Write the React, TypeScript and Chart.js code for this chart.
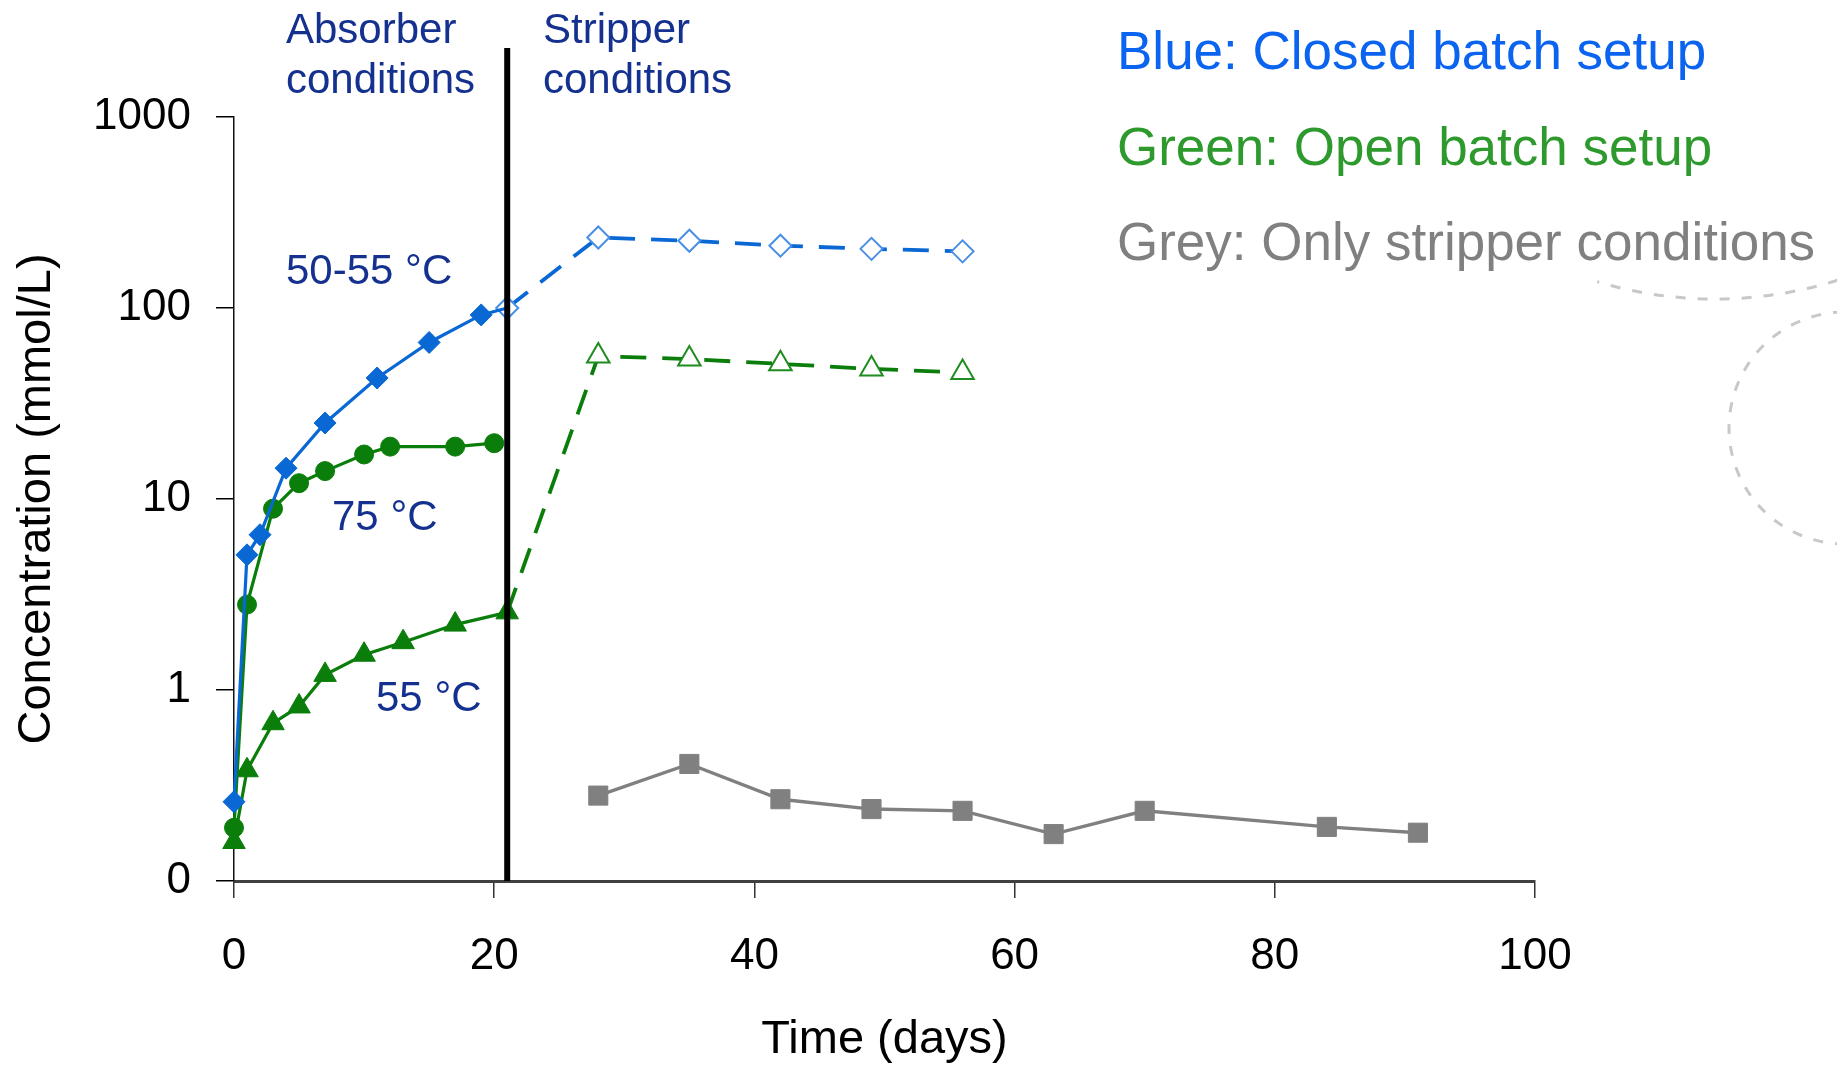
import React, { useEffect, useRef } from 'react';
import { Chart, registerables } from 'chart.js';

Chart.register(...registerables);

// ---- Data ----
const closedAbsorberDays = [0, 1, 2, 4, 7, 11, 15, 19, 21];
const closedAbsorberConc = [0.26, 5.1, 6.5, 14.5, 25, 43, 66, 92, 100];
const closedStripperDays = [21, 28, 35, 42, 49, 56];
const closedStripperConc = [100, 234, 225, 212, 204, 198];
const open75Days = [0, 1, 3, 5, 7, 10, 12, 17, 20];
const open75Conc = [0.19, 2.8, 8.9, 12.1, 14.0, 17.1, 18.8, 18.8, 19.6];
const open55Days = [0, 1, 3, 5, 7, 10, 13, 17, 21];
const open55Conc = [0.16, 0.38, 0.67, 0.82, 1.2, 1.53, 1.78, 2.2, 2.55];
const openStripperDays = [21, 28, 35, 42, 49, 56];
const openStripperConc = [2.55, 56, 54, 51, 48, 46];
const stripperOnlyDays = [28, 35, 42, 49, 56, 63, 70, 84, 91];
const stripperOnlyConc = [0.28, 0.41, 0.268, 0.238, 0.233, 0.176, 0.233, 0.192, 0.179];

const yTickValues = [0.1, 1, 10, 100, 1000];
const yTickLabels = ['0', '1', '10', '100', '1000'];
const xTickValues = [0, 20, 40, 60, 80, 100];
const dividerDay = 21;
const dividerTopConc = 2300;

const FONT = "'Liberation Sans', Arial, Helvetica, sans-serif";
const BLUE = '#0A68D4';
const BLUE_OPEN = '#4A8FE6';
const GREEN = '#0A7D0A';
const GREY = '#808080';
const NAVY = '#15318F';

const toPoints = (xs: number[], ys: number[]) => xs.map((x, i) => ({ x, y: ys[i] }));

const overlayPlugin = {
  id: 'overlay',
  afterDatasetsDraw(chart: any) {
    const { ctx, scales, chartArea } = chart;
    const px = scales.x.getPixelForValue(dividerDay);
    ctx.save();
    ctx.strokeStyle = '#000';
    ctx.lineWidth = 6;
    ctx.beginPath();
    ctx.moveTo(px, scales.y.getPixelForValue(dividerTopConc));
    ctx.lineTo(px, chartArea.bottom);
    ctx.stroke();
    ctx.restore();
  },
  afterDraw(chart: any) {
    const { ctx } = chart;
    ctx.save();
    // decorative dashed arcs
    ctx.strokeStyle = '#C8C8C8';
    ctx.lineWidth = 3;
    ctx.setLineDash([10, 12]);
    ctx.beginPath();
    ctx.arc(1715, -110, 409, 1.266, 1.863);
    ctx.stroke();
    ctx.beginPath();
    ctx.arc(1845, 428, 116, Math.PI / 2, (3 * Math.PI) / 2);
    ctx.stroke();
    ctx.setLineDash([]);

    ctx.textAlign = 'left';
    ctx.textBaseline = 'alphabetic';
    ctx.fillStyle = NAVY;
    ctx.font = `42px ${FONT}`;
    ctx.fillText('Absorber', 286, 43);
    ctx.fillText('conditions', 286, 93);
    ctx.fillText('Stripper', 543, 43);
    ctx.fillText('conditions', 543, 93);
    ctx.fillText('50-55 °C', 286, 284);
    ctx.fillText('75 °C', 332, 530);
    ctx.fillText('55 °C', 376, 711);

    ctx.font = `53px ${FONT}`;
    ctx.fillStyle = '#0A64F0';
    ctx.fillText('Blue: Closed batch setup', 1117, 69);
    ctx.fillStyle = '#2E9A2E';
    ctx.fillText('Green: Open batch setup', 1117, 165);
    ctx.fillStyle = GREY;
    ctx.fillText('Grey: Only stripper conditions', 1117, 260);
    ctx.restore();
  },
};

export default function App() {
  const canvasRef = useRef<HTMLCanvasElement | null>(null);

  useEffect(() => {
    if (!canvasRef.current) return;
    const chart = new Chart(canvasRef.current, {
      type: 'line',
      data: {
        datasets: [
          {
            label: 'Closed batch, absorber',
            data: toPoints(closedAbsorberDays, closedAbsorberConc),
            borderColor: BLUE,
            borderWidth: 3.2,
            pointStyle: 'rectRot',
            pointRadius: (c: any) => (c.dataIndex === closedAbsorberDays.length - 1 ? 0 : 11),
            pointBackgroundColor: BLUE,
            pointBorderColor: BLUE,
            pointBorderWidth: 1,
            tension: 0,
            clip: false,
          },
          {
            label: 'Closed batch, stripper',
            data: toPoints(closedStripperDays, closedStripperConc),
            borderColor: BLUE,
            borderWidth: 3.8,
            borderDash: [26, 16],
            pointStyle: 'rectRot',
            pointRadius: 11,
            pointBackgroundColor: '#FFFFFF',
            pointBorderColor: BLUE_OPEN,
            pointBorderWidth: 2,
            tension: 0,
            clip: false,
          },
          {
            label: 'Open batch 75 °C',
            data: toPoints(open75Days, open75Conc),
            borderColor: GREEN,
            borderWidth: 3.2,
            pointStyle: 'circle',
            pointRadius: 9.5,
            pointBackgroundColor: GREEN,
            pointBorderColor: GREEN,
            pointBorderWidth: 1,
            tension: 0,
            clip: false,
          },
          {
            label: 'Open batch 55 °C',
            data: toPoints(open55Days, open55Conc),
            borderColor: GREEN,
            borderWidth: 3.2,
            pointStyle: 'triangle',
            pointRadius: 13,
            pointBackgroundColor: GREEN,
            pointBorderColor: GREEN,
            pointBorderWidth: 1,
            tension: 0,
            clip: false,
          },
          {
            label: 'Open batch, stripper',
            data: toPoints(openStripperDays, openStripperConc),
            borderColor: GREEN,
            borderWidth: 3.8,
            borderDash: [26, 16],
            pointStyle: 'triangle',
            pointRadius: (c: any) => (c.dataIndex === 0 ? 0 : 13),
            pointBackgroundColor: '#FFFFFF',
            pointBorderColor: '#1E8C1E',
            pointBorderWidth: 2,
            tension: 0,
            clip: false,
          },
          {
            label: 'Only stripper conditions',
            data: toPoints(stripperOnlyDays, stripperOnlyConc),
            borderColor: GREY,
            borderWidth: 3.4,
            pointStyle: 'rect',
            pointRadius: 13.5,
            pointBackgroundColor: GREY,
            pointBorderColor: GREY,
            pointBorderWidth: 1,
            tension: 0,
            clip: false,
          },
        ],
      },
      options: {
        responsive: false,
        animation: false,
        devicePixelRatio: 1,
        layout: { padding: { top: 117, right: 302, left: 0, bottom: 0 } },
        plugins: {
          legend: { display: false },
          tooltip: { enabled: false },
        },
        events: [],
        scales: {
          x: {
            type: 'linear',
            min: 0,
            max: 100,
            afterFit: (s: any) => {
              s.height = 187;
            },
            afterBuildTicks: (s: any) => {
              s.ticks = xTickValues.map((v) => ({ value: v }));
            },
            ticks: {
              color: '#000',
              font: { family: FONT, size: 44 },
              padding: 32,
              maxRotation: 0,
              autoSkip: false,
              callback: (v: any) => String(v),
            },
            grid: {
              drawOnChartArea: false,
              drawTicks: true,
              tickLength: 17,
              color: '#333',
              lineWidth: 1.5,
            },
            border: { display: true, color: '#404040', width: 3 },
            title: {
              display: true,
              text: 'Time (days)',
              color: '#000',
              font: { family: FONT, size: 47 },
              padding: { top: 0, bottom: 0 },
            },
          },
          y: {
            type: 'logarithmic',
            min: 0.1,
            max: 1000,
            afterFit: (s: any) => {
              s.width = 234;
            },
            afterBuildTicks: (s: any) => {
              s.ticks = yTickValues.map((v) => ({ value: v }));
            },
            ticks: {
              color: '#000',
              font: { family: FONT, size: 44 },
              padding: 25,
              autoSkip: false,
              callback: (v: any) => {
                const i = yTickValues.indexOf(Number(v));
                return i >= 0 ? yTickLabels[i] : '';
              },
            },
            grid: {
              drawOnChartArea: false,
              drawTicks: true,
              tickLength: 18,
              color: '#000',
              lineWidth: 1.5,
            },
            border: { display: true, color: '#111', width: 1.5 },
            title: {
              display: true,
              text: 'Concentration (mmol/L)',
              color: '#000',
              font: { family: FONT, size: 47 },
              padding: { top: 9, bottom: 0 },
            },
          },
        },
      } as any,
      plugins: [overlayPlugin],
    });
    return () => chart.destroy();
  }, []);

  return (
    <div style={{ position: 'fixed', left: 0, top: 0, width: 1837, height: 1068, background: '#fff' }}>
      <canvas ref={canvasRef} width={1837} height={1068} style={{ width: 1837, height: 1068, display: 'block' }} />
    </div>
  );
}
